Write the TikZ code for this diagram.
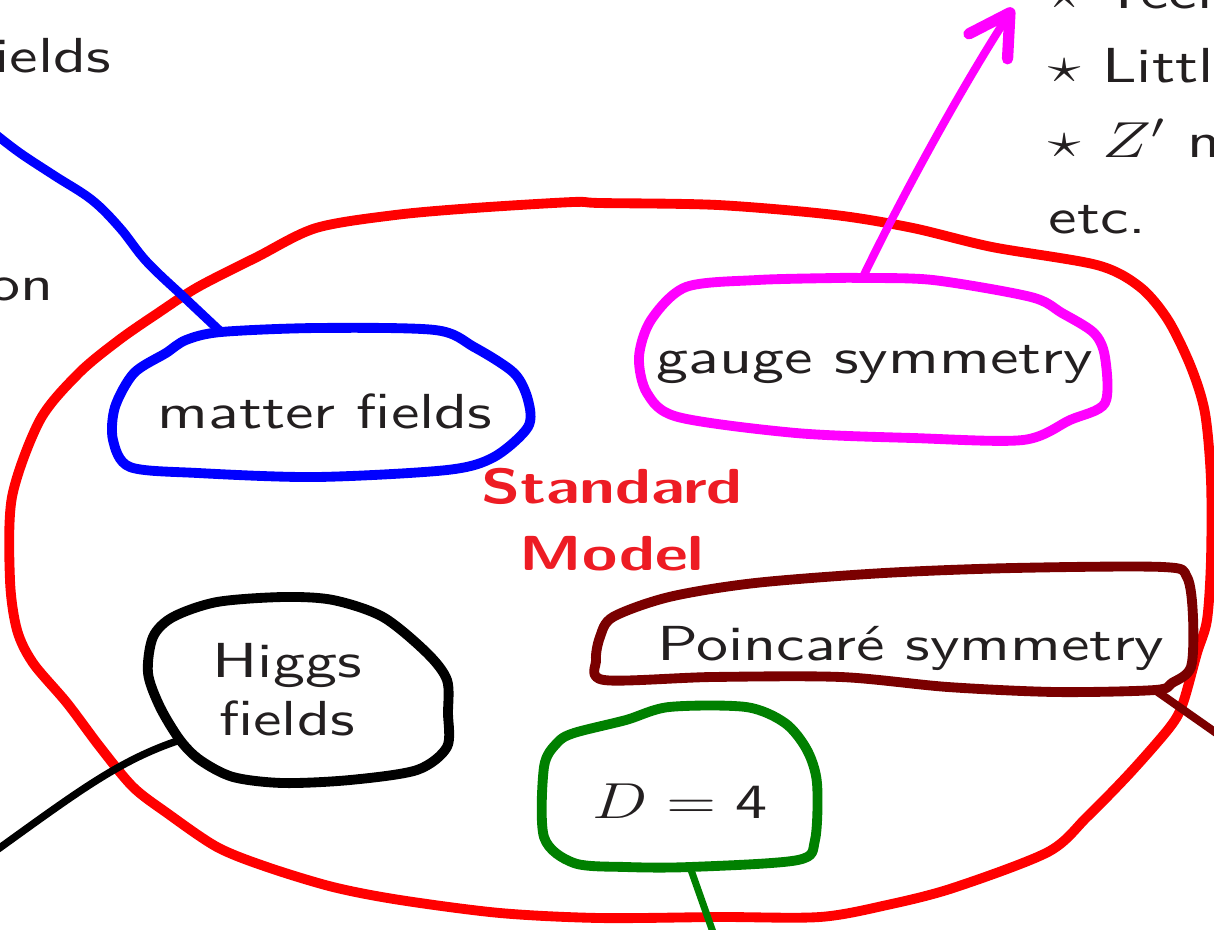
\documentclass[tikz,border=0pt]{standalone}
\usepackage{fontspec}
\usepackage{graphicx}
\setsansfont{lmsans10-regular}[Extension=.otf, BoldFont=lmsans10-bold, FakeStretch=1.3]
\usetikzlibrary{arrows.meta}
\definecolor{ink}{RGB}{35,31,32}
\definecolor{smred}{RGB}{237,28,36}
\definecolor{maroon}{RGB}{122,0,0}
\definecolor{dgreen}{RGB}{0,128,0}
\definecolor{pink}{RGB}{255,0,255}
\newcommand{\wm}[1]{\scalebox{1.3}[1]{$#1$}}
\begin{document}
\begin{tikzpicture}[
  x=0.01cm, y=-0.01cm,
  blob/.style={line width=2.8pt, line join=round},
  wire/.style={line width=2.3pt, line cap=round},
  lbl/.style={font=\sffamily\fontsize{14}{17}\selectfont, text=ink, inner sep=0pt}
]
  \useasboundingbox (0,0) rectangle (1214,929);
  \clip (0,0) rectangle (1214,929);

  % outer blob
  \draw[blob, red] plot[smooth cycle, tension=0.5] coordinates {
    (600,203) (718,205) (835,215) (913,228) (992,247) (1097,265) (1140,287)
    (1168,320) (1191,367) (1205,413) (1211,480) (1211,560) (1207,620)
    (1197,653) (1183,703) (1170,727) (1130,773) (1087,817) (1048,852)
    (953,888) (887,905) (820,917) (720,917) (600,918) (500,913)
    (400,900) (333,887) (267,867) (217,847) (167,813) (133,787) (100,747)
    (67,703) (33,663) (17,630) (10,580) (12,497) (40,420) (79,373) (119,340)
    (158,313) (198,287) (257,257) (316,228) (395,215) (474,208) (573,202)};
  \node[lbl, font=\sffamily\bfseries\fontsize{14}{18.8}\selectfont, text=smred,
    align=center, anchor=north] (SM) at (612,468) {Standard\\Model};

  % inner blobs
  \draw[blob, blue] plot[smooth cycle, tension=0.5] coordinates {
    (221,332) (316,328) (435,330) (474,347) (514,373) (528,400) (528,427)
    (494,457) (447,470) (316,477) (198,473) (130,467) (113,440) (115,407)
    (134,373) (166,353) (186,340)};
  \draw[blob, pink] plot[smooth cycle, tension=0.5] coordinates {
    (862,278) (933,280) (1031,297) (1062,313) (1094,333) (1105,357)
    (1105,403) (1070,420) (1023,440) (913,438) (796,433) (678,417)
    (647,393) (639,357) (651,320) (686,287) (757,280) (835,278)};
  \draw[blob, black] plot[smooth cycle, tension=0.5] coordinates {
    (180,740) (200,760) (233,777) (283,783) (350,780) (417,770) (447,747)
    (448,713) (447,680) (427,653) (383,617) (333,600) (283,597) (217,602)
    (173,617) (153,637) (148,673) (160,707)};
  \draw[blob, maroon] plot[smooth cycle, tension=0.5] coordinates {
    (613,617) (669,597) (755,583) (884,573) (1013,568) (1163,567) (1187,577)
    (1193,617) (1191,667) (1172,683) (1155,690) (1056,692) (948,687)
    (841,677) (712,677) (604,680) (596,660) (600,637)};
  \draw[blob, dgreen] plot[smooth cycle, tension=0.5] coordinates {
    (690,867) (798,860) (815,840) (817,783) (807,750) (785,723) (746,707)
    (669,707) (626,720) (574,733) (557,743) (544,767) (544,837) (574,863)
    (626,867)};

  % labels
  \node[lbl, anchor=base] (MF) at (325,428) {matter fields};
  \node[lbl, anchor=base] (GS) at (875,373) {gauge symmetry};
  \node[lbl, font=\sffamily\fontsize{14}{16.5}\selectfont, align=center,
    anchor=north] (HF) at (287,643) {Higgs\\fields};
  \node[lbl, anchor=base] (PS) at (911,660) {Poincaré symmetry};
  \node[lbl, anchor=base] (D4) at (680,818) {\wm{D={}}4};

  \node[lbl, anchor=base west] (fl) at (-6,72) {ields};
  \node[lbl, anchor=base west] (on) at (-12,300) {on};
  \node[lbl, anchor=base west] (tech) at (1048,8) {\wm{\star} Tech};
  \node[lbl, anchor=base west] (lh) at (1048,82) {\wm{\star} Littl};
  \node[lbl, anchor=base west] (zp) at (1048,157) {\wm{\star} \wm{Z'} m};
  \node[lbl, anchor=base west] (etc) at (1048,233) {etc.};

  % ends
  \coordinate (mf) at (221,332);
  \coordinate (mfend) at (-6,133);
  \coordinate (gs) at (862,279);
  \coordinate (gsend) at (1013,8);
  \coordinate (hf) at (180,740);
  \coordinate (hfend) at (-6,852);
  \coordinate (ps) at (1155,690);
  \coordinate (psend) at (1222,737);
  \coordinate (d4) at (690,867);
  \coordinate (d4end) at (714,935);

  % wires
  \draw[wire, blue, line width=2.6pt] plot[smooth, tension=0.6] coordinates {
    (mf) (187,300) (147,262) (120,228) (92,200) (55,176) (20,153) (mfend)};
  \draw[wire, pink, line width=2.3pt,
    -{Straight Barb[length=4mm, width=4.6mm, line width=3.2pt, round]}]
    (gs) .. controls (900,200) and (960,90) .. (gsend);
  \draw[wire, black, line width=2.1pt] (hf) .. controls (120,760) and (80,790) .. (hfend);
  \draw[wire, maroon, line width=2.3pt] (ps) -- (psend);
  \draw[wire, dgreen, line width=2pt] (d4) -- (d4end);
\end{tikzpicture}
\end{document}
